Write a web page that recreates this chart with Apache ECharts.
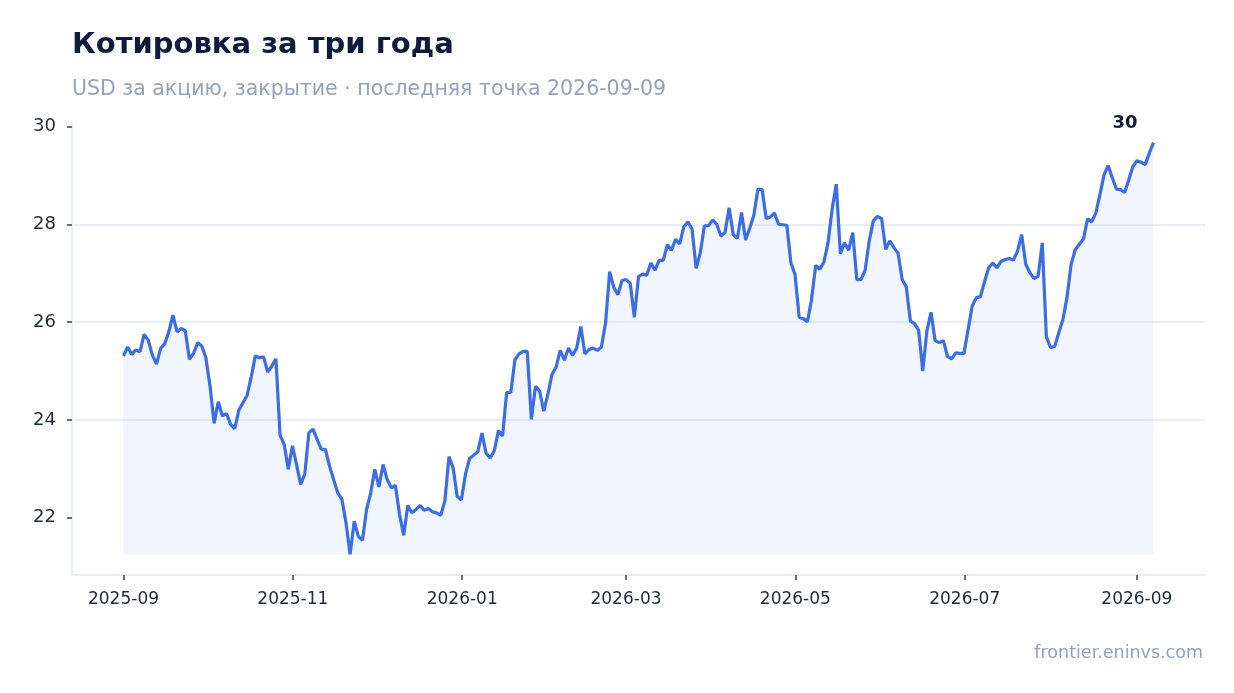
<!DOCTYPE html>
<html>
<head>
<meta charset="utf-8">
<title>Котировка за три года</title>
<script src="https://cdn.jsdelivr.net/npm/echarts@6/dist/echarts.min.js"></script>
<style>
  html, body { margin: 0; padding: 0; background: #fff; }
  #main { width: 1234px; height: 693px; }
</style>
</head>
<body>
<div id="main"></div>
<script>
// период котировок: точки идут с равным шагом между первой и последней датой
const START_DATE = '2025-09-01';
const END_DATE = '2026-09-07';

// цена закрытия, USD за акцию
const prices = [
  25.31, 25.49, 25.34, 25.43, 25.39, 25.75, 25.63, 25.33, 25.14, 25.46,
  25.56, 25.80, 26.14, 25.80, 25.87, 25.82, 25.24, 25.36, 25.58, 25.51,
  25.27, 24.69, 23.93, 24.37, 24.08, 24.13, 23.91, 23.82, 24.20, 24.35,
  24.50, 24.88, 25.31, 25.27, 25.29, 24.98, 25.10, 25.25, 23.69, 23.50,
  22.99, 23.47, 23.09, 22.68, 22.89, 23.74, 23.81, 23.60, 23.40, 23.40,
  23.06, 22.78, 22.51, 22.38, 21.90, 21.25, 21.93, 21.62, 21.54, 22.17,
  22.51, 22.99, 22.63, 23.09, 22.78, 22.61, 22.66, 22.07, 21.64, 22.25,
  22.10, 22.17, 22.25, 22.15, 22.19, 22.12, 22.10, 22.05, 22.34, 23.25,
  23.02, 22.44, 22.36, 22.89, 23.21, 23.28, 23.35, 23.73, 23.32, 23.22,
  23.37, 23.78, 23.67, 24.56, 24.56, 25.23, 25.35, 25.40, 25.40, 24.01,
  24.69, 24.59, 24.18, 24.52, 24.93, 25.08, 25.42, 25.22, 25.47, 25.32,
  25.47, 25.91, 25.35, 25.44, 25.47, 25.42, 25.49, 25.98, 27.03, 26.71,
  26.56, 26.85, 26.87, 26.79, 26.10, 26.93, 26.98, 26.96, 27.21, 27.06,
  27.26, 27.26, 27.58, 27.47, 27.69, 27.60, 27.95, 28.05, 27.90, 27.10,
  27.42, 27.97, 27.97, 28.09, 28.00, 27.76, 27.83, 28.34, 27.79, 27.71,
  28.24, 27.68, 27.92, 28.19, 28.72, 28.71, 28.12, 28.15, 28.23, 28.00,
  27.99, 27.98, 27.21, 26.97, 26.10, 26.07, 26.01, 26.46, 27.16, 27.08,
  27.23, 27.62, 28.31, 28.82, 27.40, 27.62, 27.47, 27.83, 26.87, 26.87,
  27.06, 27.66, 28.07, 28.16, 28.12, 27.49, 27.66, 27.52, 27.41, 26.87,
  26.72, 26.02, 25.97, 25.83, 25.00, 25.82, 26.20, 25.62, 25.58, 25.62,
  25.30, 25.25, 25.37, 25.36, 25.36, 25.85, 26.33, 26.50, 26.52, 26.83,
  27.11, 27.21, 27.11, 27.24, 27.28, 27.30, 27.27, 27.45, 27.79, 27.18,
  27.01, 26.89, 26.94, 27.62, 25.70, 25.48, 25.50, 25.78, 26.05, 26.50,
  27.18, 27.48, 27.59, 27.70, 28.11, 28.05, 28.23, 28.61, 29.01, 29.20,
  28.95, 28.72, 28.71, 28.65, 28.91, 29.18, 29.30, 29.27, 29.22, 29.46,
  29.67
];

// подписи оси Y
const yTicks = [22, 24, 26, 28, 30];

const FONT = 'DejaVu Sans';
const toTime = s => +new Date(s + 'T00:00:00');

const t0 = toTime(START_DATE);
const t1 = toTime(END_DATE);
const step = (t1 - t0) / (prices.length - 1);
const seriesData = prices.map((v, i) => [t0 + i * step, v]);

const pMin = Math.min(...prices);
const pMax = Math.max(...prices);
const pad = (pMax - pMin) * 0.05;
const tPad = (t1 - t0) * 0.05;

const chart = echarts.init(document.getElementById('main'), null, { renderer: 'canvas' });

const option = {
  animation: false,
  backgroundColor: '#ffffff',
  title: [
    {
      text: 'Котировка за три года',
      left: 72, top: 31, padding: 0,
      textStyle: { fontFamily: FONT, fontSize: 29, fontWeight: 'bold', color: '#0e1b3e' }
    },
    {
      text: 'USD за акцию, закрытие · последняя точка 2026-09-09',
      left: 72, top: 79, padding: 0,
      textStyle: { fontFamily: FONT, fontSize: 20.5, fontWeight: 'normal', color: '#94a3b8' }
    },
    {
      text: 'frontier.eninvs.com',
      right: 31, top: 644, padding: 0,
      textStyle: { fontFamily: FONT, fontSize: 17.5, fontWeight: 'normal', color: '#94a3b8' }
    }
  ],
  grid: { left: 72, right: 29, top: 122, bottom: 118, containLabel: false },
  xAxis: {
    type: 'time',
    min: t0 - tPad,
    max: t1 + tPad,
    splitNumber: 5,
    axisLine: { show: true, lineStyle: { color: '#e2e8f0', width: 1.5 } },
    axisTick: { show: true, length: 5, lineStyle: { color: '#334155', width: 1.5 } },
    axisLabel: {
      fontFamily: FONT, fontSize: 17, color: '#1e293b', margin: 16,
      formatter: function (v) {
        const d = new Date(v);
        return d.getFullYear() + '-' + String(d.getMonth() + 1).padStart(2, '0');
      }
    },
    splitLine: { show: false }
  },
  yAxis: {
    type: 'value',
    min: pMin - pad,
    max: pMax + pad,
    axisLine: { show: true, lineStyle: { color: '#e2e8f0', width: 1.5 } },
    axisTick: {
      show: true, length: 5,
      customValues: yTicks,
      lineStyle: { color: '#334155', width: 1.5 }
    },
    axisLabel: {
      customValues: yTicks,
      fontFamily: FONT, fontSize: 18, color: '#1e293b', margin: 16,
      padding: [4, 0, 0, 0]
    },
    splitLine: {
      show: true, showMinLine: false, showMaxLine: false,
      lineStyle: { color: '#e2e8f0', width: 1.5 }
    }
  },
  series: [{
    type: 'line',
    data: seriesData,
    symbol: 'none',
    showSymbol: false,
    lineStyle: { color: '#3b6de6', width: 3.2 },
    itemStyle: { color: '#3b6de6' },
    areaStyle: { color: 'rgba(59,109,230,0.1)', origin: pMin },
    endLabel: {
      show: true,
      formatter: p => String(Math.round(p.value[1])),
      fontFamily: FONT, fontSize: 18, fontWeight: 'bold', color: '#0e1b3e',
      align: 'right', verticalAlign: 'bottom',
      offset: [-24, -10]
    }
  }]
};

chart.setOption(option);
</script>
</body>
</html>
